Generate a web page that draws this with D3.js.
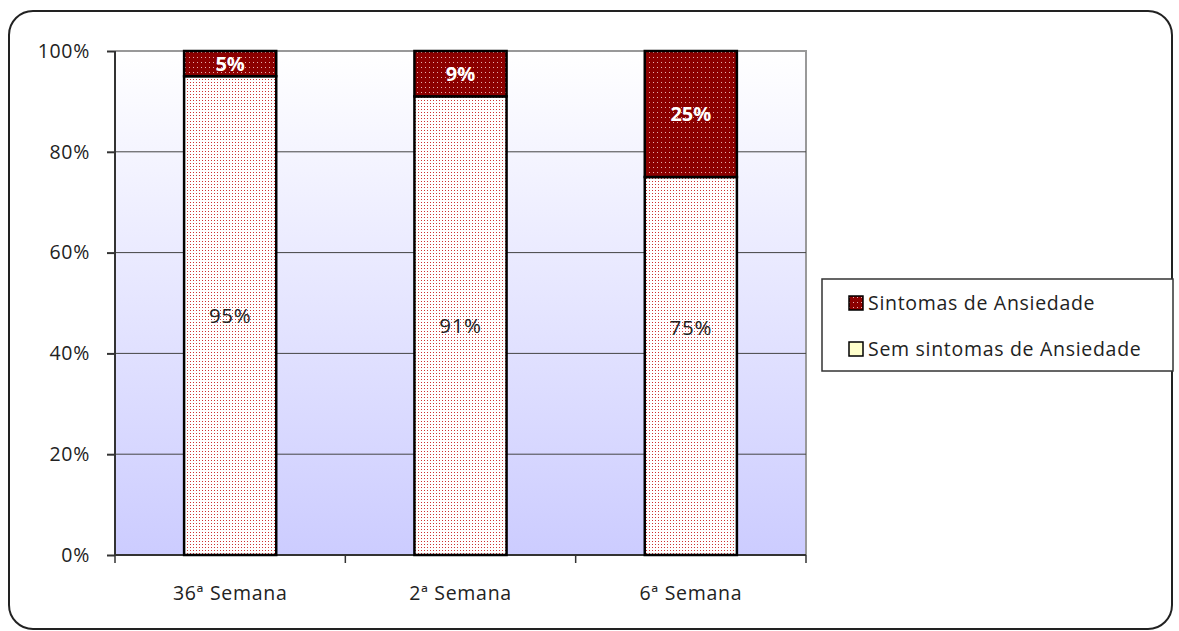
<!DOCTYPE html>
<html><head><meta charset="utf-8">
<script src="https://cdn.jsdelivr.net/npm/d3@7/dist/d3.min.js"></script>
<style>body{margin:0;background:#fff;} svg{display:block;}</style>
</head><body>
<script>
const categories = ["36ª Semana", "2ª Semana", "6ª Semana"];
const semSintomas = [95, 91, 75];
const sintomas = [5, 9, 25];
const yTicks = [0, 20, 40, 60, 80, 100];
const seriesNames = ["Sintomas de Ansiedade", "Sem sintomas de Ansiedade"];

(function(){
const W = 1179, H = 631;
const svg = d3.select("body").append("svg").attr("width", W).attr("height", H);
const defs = svg.append("defs");

const grad = defs.append("linearGradient").attr("id","bg").attr("x1",0).attr("y1",0).attr("x2",0).attr("y2",1);
grad.append("stop").attr("offset","0%").attr("stop-color","#ffffff");
grad.append("stop").attr("offset","100%").attr("stop-color","#ccccff");

const pLight = defs.append("pattern").attr("id","pLight").attr("width",3).attr("height",3).attr("patternUnits","userSpaceOnUse");
pLight.append("rect").attr("width",3).attr("height",3).attr("fill","#ffffff");
pLight.append("rect").attr("x",1).attr("y",1).attr("width",1).attr("height",1).attr("fill","#cc3333");

const pDark = defs.append("pattern").attr("id","pDark").attr("width",4).attr("height",5).attr("patternUnits","userSpaceOnUse");
pDark.append("rect").attr("width",4).attr("height",5).attr("fill","#8b0000");
pDark.append("rect").attr("x",1).attr("y",2).attr("width",1).attr("height",1).attr("fill","#e8b0b0");

// outer frame
svg.append("rect").attr("x",9).attr("y",11).attr("width",1163).attr("height",618)
  .attr("rx",24).attr("ry",24).attr("fill","#fff").attr("stroke","#222").attr("stroke-width",2);

const pl = 115, pr = 806, pt = 51, pb = 555;
const x = d3.scaleBand().domain(categories).range([pl, pr]).paddingInner(0.6).paddingOuter(0.3);
const y = d3.scaleLinear().domain([0, 100]).range([pb, pt]);

svg.append("rect").attr("x",pl).attr("y",pt).attr("width",pr-pl).attr("height",pb-pt).attr("fill","url(#bg)");
svg.append("path").attr("d",`M${pl},${pt}H${pr}V${pb}`).attr("fill","none").attr("stroke","#999").attr("stroke-width",2);

// grid
svg.append("g").selectAll("line").data(yTicks.filter(d=>d>0 && d<100)).join("line")
  .attr("x1",pl).attr("x2",pr).attr("y1",d=>y(d)).attr("y2",d=>y(d))
  .attr("stroke","#444").attr("stroke-width",1);

const font = "'Open Sans', 'Noto Sans', sans-serif";
const fs = 19.5, ls = "0.7px";

// y axis
const yAxis = svg.append("g").attr("transform",`translate(${pl},0)`)
  .call(d3.axisLeft(y).tickValues(yTicks).tickFormat(d=>d+"%").tickSize(8).tickPadding(17));
yAxis.select(".domain").attr("stroke","#333").attr("stroke-width",2).attr("d",`M0,${pt}V${pb}`);
yAxis.selectAll(".tick line").attr("stroke","#333").attr("stroke-width",2);
yAxis.selectAll("text").attr("font-family",font).attr("font-size",fs).attr("letter-spacing",ls).attr("fill","#222");

// x axis
const bounds = [pl].concat(categories.map(c => x(c) + x.bandwidth() + x.step()*x.paddingInner()/2));
bounds[bounds.length-1] = pr;
const xAxis = svg.append("g");
xAxis.append("line").attr("x1",pl).attr("x2",pr).attr("y1",pb).attr("y2",pb).attr("stroke","#333").attr("stroke-width",2);
xAxis.selectAll(".tk").data(bounds).join("line").attr("class","tk")
  .attr("x1",d=>d).attr("x2",d=>d).attr("y1",pb).attr("y2",pb+8).attr("stroke","#333").attr("stroke-width",1.5);
xAxis.selectAll("text").data(categories).join("text")
  .attr("x",d=>x(d)+x.bandwidth()/2).attr("y",pb+45)
  .attr("text-anchor","middle").attr("font-family",font).attr("font-size",fs).attr("letter-spacing",ls).attr("fill","#222").text(d=>d);

// bars
const bars = svg.append("g");
categories.forEach((c,i)=>{
  const bx = x(c), bw = x.bandwidth();
  bars.append("rect").attr("x",bx).attr("y",y(semSintomas[i])).attr("width",bw).attr("height",y(0)-y(semSintomas[i]))
    .attr("fill","url(#pLight)").attr("stroke","#000").attr("stroke-width",2.5);
  bars.append("rect").attr("x",bx).attr("y",y(semSintomas[i]+sintomas[i])).attr("width",bw)
    .attr("height",y(semSintomas[i])-y(semSintomas[i]+sintomas[i]))
    .attr("fill","url(#pDark)").attr("stroke","#000").attr("stroke-width",2.5);
  const lowY = Math.min(y(semSintomas[i]/2), y(45));
  bars.append("text").attr("x",bx+bw/2).attr("y",lowY).attr("dy","0.35em").attr("text-anchor","middle")
    .attr("font-family",font).attr("font-size",20.5).attr("letter-spacing",ls).attr("fill","#222").text(semSintomas[i]+"%");
  bars.append("text").attr("x",bx+bw/2).attr("y",y(semSintomas[i]+sintomas[i]/2)).attr("dy","0.35em").attr("text-anchor","middle")
    .attr("font-family",font).attr("font-size",20).attr("font-weight","bold").attr("fill","#fff").text(sintomas[i]+"%");
});

// legend
const lg = svg.append("g");
lg.append("rect").attr("x",822).attr("y",279).attr("width",351).attr("height",92).attr("fill","#fff").attr("stroke","#333").attr("stroke-width",1.5);
const fills = ["url(#pDark)", "#ffffcc"];
seriesNames.forEach((s,i)=>{
  const cy = 303 + i*46;
  lg.append("rect").attr("x",849).attr("y",cy-7).attr("width",14).attr("height",14).attr("fill",fills[i]).attr("stroke","#000").attr("stroke-width",1.5);
  lg.append("text").attr("x",868).attr("y",cy).attr("dy","0.35em").attr("font-family",font).attr("font-size",fs).attr("letter-spacing",ls).attr("fill","#222").text(s);
});
})();
</script>
</body></html>
